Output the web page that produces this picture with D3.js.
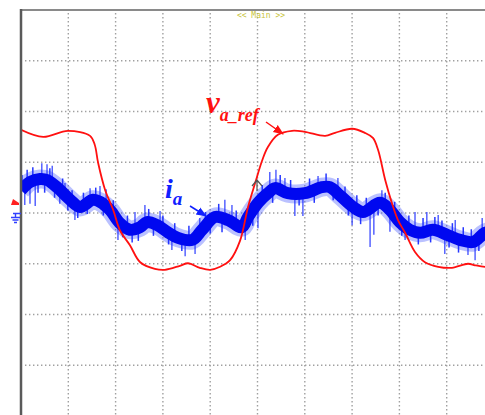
<!DOCTYPE html>
<meta charset="utf-8">
<style>
body { margin: 0; background: #fff; }
.grid line { stroke: #a0a0a0; stroke-width: 1.4; stroke-dasharray: 1.4,2.6; }
.lbl { font-family: "Liberation Serif", "DejaVu Serif", serif; font-style: italic; font-weight: bold; }
</style>
<svg width="485" height="415"></svg>
<script src="https://d3js.org/d3.v7.min.js"></script>
<script>

// time in divisions (0..10), level in divisions (-4..4, 0 = trace ground)
var refT = [0, 0.47, 0.99, 1.46, 1.56, 1.63, 1.78, 1.95, 2.09, 2.30, 2.52, 2.83, 3.04, 3.36, 3.53, 3.78,
            4.00, 4.21, 4.42, 4.63, 4.80, 4.95, 5.10, 5.22, 5.43, 5.73, 6.00, 6.43, 6.64, 7.00, 7.27,
            7.44, 7.55, 7.70, 7.84, 7.97, 8.12, 8.33, 8.54, 8.82, 9.11, 9.45, 9.60, 9.81, 10];
var refV = [1.64, 1.50, 1.62, 1.52, 1.34, 0.99, 0.45, 0.06, -0.34, -0.63, -0.97, -1.10, -1.12, -1.04, -0.99, -1.08,
            -1.12, -1.06, -0.93, -0.55, 0.12, 0.59, 1.04, 1.30, 1.54, 1.62, 1.60, 1.52, 1.58, 1.66, 1.58,
            1.48, 1.24, 0.65, 0.20, -0.14, -0.39, -0.77, -0.97, -1.06, -1.08, -1.00, -1.03, -1.06, -1.06];

var curT = [0, 0.19, 0.40, 0.55, 0.76, 1.04, 1.25, 1.52, 1.67, 1.88, 2.09, 2.30, 2.52, 2.66, 2.88, 3.09,
            3.32, 3.62, 3.83, 4.10, 4.38, 4.67, 4.80, 5.01, 5.22, 5.37, 5.64, 6.00, 6.36, 6.53, 6.74,
            7.02, 7.23, 7.59, 7.80, 8.01, 8.22, 8.44, 8.71, 9.01, 9.28, 9.56, 9.81, 10];
var curV = [0.45, 0.61, 0.67, 0.65, 0.51, 0.26, 0.12, 0.26, 0.22, 0.06, -0.20, -0.33, -0.28, -0.18, -0.24, -0.37,
            -0.49, -0.53, -0.33, -0.08, -0.14, -0.28, -0.08, 0.20, 0.39, 0.49, 0.39, 0.39, 0.51, 0.51, 0.35,
            0.12, 0.02, 0.20, 0.06, -0.18, -0.33, -0.39, -0.33, -0.43, -0.53, -0.57, -0.39, -0.35];

// big noise spikes on the current trace: [time, from, to]
var spikes = [[0.08, 0.55, 0.16], [0.19, 0.61, 0.18], [0.30, 0.65, 0.14], [0.44, 0.69, 0.98], [0.55, 0.67, 0.96],
              [0.66, 0.61, 0.93], [0.82, 0.49, 0.18], [0.93, 0.35, 0.59], [1.14, 0.20, -0.14], [1.46, 0.26, 0.49],
              [1.67, 0.22, 0.53], [1.80, 0.16, 0.47], [2.05, -0.14, -0.53], [2.41, -0.30, 0.02], [2.62, -0.18, 0.16],
              [2.94, -0.26, 0.04], [3.19, -0.43, -0.73], [3.47, -0.51, -0.85], [3.68, -0.51, -0.81], [3.78, -0.39, -0.10],
              [4.31, -0.10, 0.26], [4.46, -0.16, 0.16], [4.74, -0.18, -0.53], [5.01, 0.20, -0.30], [5.26, 0.45, 0.81],
              [5.39, 0.49, 0.85], [5.58, 0.45, 0.69], [5.79, 0.41, -0.06], [5.96, 0.39, -0.06], [6.28, 0.49, 0.73],
              [6.70, 0.41, 0.69], [7.00, 0.14, -0.24], [7.38, 0.06, -0.67], [7.46, 0.06, -0.43], [7.63, 0.20, 0.45],
              [7.80, 0.06, -0.37], [8.12, -0.24, -0.53], [8.33, -0.33, 0.02], [8.58, -0.33, 0.02], [8.82, -0.33, -0.04],
              [8.96, -0.43, -0.81], [9.18, -0.47, -0.14], [9.45, -0.55, -0.83], [9.60, -0.57, -0.93], [9.75, -0.43, -0.10]];

// short ripple on the band edges: [time, from, to]
var ripple = [[0.02, 0.47, 0.75], [0.13, 0.58, 0.85], [0.25, 0.63, 0.90], [0.36, 0.66, 0.40], [0.50, 0.66, 0.40],
              [0.61, 0.63, 0.88], [0.71, 0.55, 0.30], [0.88, 0.43, 0.68], [0.99, 0.30, 0.05], [1.08, 0.22, 0.45],
              [1.20, 0.14, -0.10], [1.32, 0.15, 0.40], [1.40, 0.22, -0.02], [1.58, 0.25, 0.50], [1.74, 0.18, -0.05],
              [1.95, 0.00, 0.25], [2.15, -0.24, -0.48], [2.25, -0.30, -0.05], [2.35, -0.32, -0.58], [2.48, -0.29, -0.55],
              [2.70, -0.19, 0.08], [2.80, -0.21, -0.45], [3.00, -0.30, -0.05], [3.12, -0.39, -0.62], [3.25, -0.46, -0.20],
              [3.40, -0.50, -0.75], [3.55, -0.52, -0.25], [3.90, -0.25, 0.02], [4.00, -0.12, -0.40], [4.18, -0.09, 0.18],
              [4.25, -0.11, -0.38], [4.55, -0.22, 0.05], [4.90, 0.05, -0.25], [5.10, 0.28, 0.55], [5.32, 0.47, 0.20],
              [5.48, 0.47, 0.75], [5.70, 0.39, 0.65], [5.88, 0.40, 0.15], [6.10, 0.42, 0.68], [6.20, 0.46, 0.20],
              [6.45, 0.51, 0.78], [6.60, 0.48, 0.25], [6.85, 0.25, 0.52], [6.92, 0.20, -0.05], [7.10, 0.08, 0.35],
              [7.18, 0.04, -0.22], [7.30, 0.05, 0.30], [7.55, 0.18, -0.05], [7.70, 0.14, 0.40], [7.90, -0.05, 0.22],
              [8.05, -0.20, -0.45], [8.20, -0.32, -0.05], [8.40, -0.38, -0.62], [8.50, -0.37, -0.10], [8.66, -0.33, -0.58],
              [8.75, -0.34, -0.08], [8.90, -0.40, -0.15], [9.05, -0.45, -0.68], [9.12, -0.46, -0.20], [9.25, -0.52, -0.78],
              [9.35, -0.54, -0.28], [9.52, -0.57, -0.32], [9.68, -0.50, -0.75], [9.90, -0.37, -0.12]];

var xDivs = d3.range(1, 10);
var yDivs = d3.range(-3, 4);

var svg = d3.select("svg"),
    x = d3.scaleLinear().domain([0, 10]).range([21, 494]),
    y = d3.scaleLinear().domain([-4, 4]).range([416, 10]);

// graticule
var grid = svg.append("g").attr("class", "grid");
grid.selectAll(".v").data(xDivs).enter().append("line")
    .attr("x1", d => x(d)).attr("x2", d => x(d))
    .attr("y1", 13).attr("y2", 416);
grid.selectAll(".h").data(yDivs).enter().append("line")
    .attr("x1", 25).attr("x2", 494)
    .attr("y1", d => y(d)).attr("y2", d => y(d));

svg.append("clipPath").attr("id", "clip").append("rect")
    .attr("x", x(0)).attr("y", y(4)).attr("width", x(10) - x(0)).attr("height", y(-4) - y(4));

var traces = svg.append("g").attr("clip-path", "url(#clip)");

var line = d3.line().x(d => x(d[0])).y(d => y(d[1])).curve(d3.curveCatmullRom);
var cur = d3.zip(curT, curV), ref = d3.zip(refT, refV);

function spikeLines(data, cls, w, op) {
  traces.selectAll("." + cls).data(data).enter().append("line")
      .attr("class", cls)
      .attr("x1", d => x(d[0])).attr("x2", d => x(d[0]))
      .attr("y1", d => y(d[1])).attr("y2", d => y(d[2]))
      .attr("stroke", "#1a2cff").attr("stroke-opacity", op).attr("stroke-width", w);
}

// current: noisy blue band
traces.append("path").attr("d", line(cur))
    .attr("fill", "none").attr("stroke", "#3a4cff").attr("stroke-opacity", 0.35).attr("stroke-width", 19);
spikeLines(spikes, "spike", 1.3, 0.85);
spikeLines(ripple, "ripple", 1.5, 0.95);
traces.append("path").attr("d", line(cur))
    .attr("fill", "none").attr("stroke", "#0008f0").attr("stroke-width", 12);

// reference voltage
traces.append("path").attr("d", line(ref))
    .attr("fill", "none").attr("stroke", "#ff1010").attr("stroke-width", 1.8);

// frame
svg.append("line").attr("x1", 20).attr("x2", 485).attr("y1", 10).attr("y2", 10)
    .attr("stroke", "#8a8a8a").attr("stroke-width", 2);
svg.append("line").attr("x1", 21).attr("x2", 21).attr("y1", 9).attr("y2", 415)
    .attr("stroke", "#5a5a5a").attr("stroke-width", 2.5);

svg.append("text").attr("x", 261).attr("y", 18).attr("text-anchor", "middle")
    .style("font", "8px 'DejaVu Sans Mono', monospace").attr("fill", "#c8c43a").text("<< Main >>");

// ground markers
svg.append("path").attr("d", "M11,205L19,205L19,203L13,199Z").attr("fill", "#ff2020");
svg.append("path").attr("d", "M13,213.5H21M15.5,213.5V217.5M11,217.5H20M12.5,220H18.5M14,222.5H17")
    .attr("stroke", "#3040ff").attr("stroke-width", 1.4).attr("fill", "none");

// trigger position marker
svg.append("path").attr("d", "M257,191V180M252,186L257,180L262,186")
    .attr("stroke", "#555").attr("stroke-width", 1.2).attr("fill", "none");

// labels
var defs = svg.append("defs");
[["ar", "#ff1010"], ["ab", "#1020ff"]].forEach(function(m) {
  defs.append("marker").attr("id", m[0]).attr("viewBox", "0 0 10 10")
      .attr("refX", 9).attr("refY", 5).attr("markerWidth", 7).attr("markerHeight", 7)
      .attr("orient", "auto")
    .append("path").attr("d", "M0,1L10,5L0,9Z").attr("fill", m[1]);
});

var vl = svg.append("text").attr("class", "lbl").attr("x", 206).attr("y", 113).attr("fill", "#ff1010");
vl.append("tspan").style("font-size", "31px").text("v");
vl.append("tspan").attr("dy", 8).style("font-size", "18px").text("a_ref");
svg.append("line").attr("x1", 266).attr("y1", 122).attr("x2", 283).attr("y2", 134)
    .attr("stroke", "#ff1010").attr("stroke-width", 1.5).attr("marker-end", "url(#ar)");

var il = svg.append("text").attr("class", "lbl").attr("x", 165).attr("y", 198).attr("fill", "#1020ff");
il.append("tspan").style("font-size", "28px").text("i");
il.append("tspan").attr("dy", 7).style("font-size", "19px").text("a");
svg.append("line").attr("x1", 190).attr("y1", 206).attr("x2", 206).attr("y2", 216)
    .attr("stroke", "#1020ff").attr("stroke-width", 1.5).attr("marker-end", "url(#ab)");

</script>
